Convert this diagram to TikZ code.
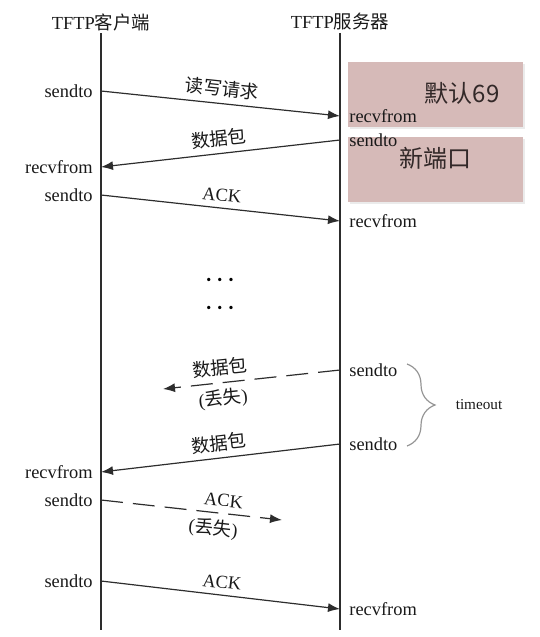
\documentclass[tikz,border=0pt]{standalone}
\usepackage{fontspec}
\setmainfont{Liberation Serif}
\newfontfamily\cjk{Noto Sans CJK SC}
\usetikzlibrary{arrows.meta,decorations.pathreplacing}
\definecolor{linea}{RGB}{45,45,45}
\definecolor{caja}{RGB}{214,186,184}
\definecolor{llave}{RGB}{150,150,150}
\definecolor{tcaja}{RGB}{50,40,40}

\begin{document}
\begin{tikzpicture}[x=0.5pt, y=-0.5pt,
	vida/.style={draw=linea, line width=0.9pt},
	msg/.style={draw=linea, line width=0.6pt, -{Latex[length=6pt,width=4.5pt]}},
	perdido/.style={msg, dash pattern=on 11pt off 5pt},
	etq/.style={font=\fontsize{9.2}{10}\selectfont, inner sep=1pt, text=black!90},
	grande/.style={font=\fontsize{12}{13}\selectfont\cjk, text=tcaja},
	puntos/.style={font=\fontsize{11}{12}\selectfont\boldmath, inner sep=1pt}]
	\useasboundingbox (0,0) rectangle (540,637);
	
	% Puertos del servidor
		% Cajas
			\fill[black, opacity=0.08] (350,64) rectangle (525,129);
			\fill[black, opacity=0.08] (350,139) rectangle (525,204);
			\fill[caja] (348,62) rectangle (523,127);
			\fill[caja] (348,137) rectangle (523,202);
		% Textos
			\node[grande] (puerto) at (462,93) {默认69};
			\node[grande] (nuevo) at (435,158) {新端口};
	
	% Lineas de vida
		\node[etq] (cliente) at (101,22) {TFTP{\cjk 客户端}};
		\node[etq] (servidor) at (340,22) {TFTP{\cjk 服务器}};
		\coordinate (finc) at (101,630);
		\coordinate (fins) at (340,630);
		\draw[vida] (cliente.south) -- (finc);
		\draw[vida] (servidor.south) -- (fins);
	
	% Puntos de envio y recepcion
		% Cliente
			\coordinate (c1) at (101,91);
			\coordinate (c2) at (101,167);
			\coordinate (c3) at (101,195);
			\coordinate (c4) at (101,472);
			\coordinate (c5) at (101,500);
			\coordinate (c6) at (101,581);
			\node[etq, left=3pt] (tc1) at (c1) {sendto};
			\node[etq, left=3pt] (tc2) at (c2) {recvfrom};
			\node[etq, left=3pt] (tc3) at (c3) {sendto};
			\node[etq, left=3pt] (tc4) at (c4) {recvfrom};
			\node[etq, left=3pt] (tc5) at (c5) {sendto};
			\node[etq, left=3pt] (tc6) at (c6) {sendto};
		% Servidor
			\coordinate (s1) at (340,116);
			\coordinate (s2) at (340,140);
			\coordinate (s3) at (340,221);
			\coordinate (s4) at (340,370);
			\coordinate (s5) at (340,444);
			\coordinate (s6) at (340,609);
			\node[etq, right=3.5pt] (ts1) at (s1) {recvfrom};
			\node[etq, right=3.5pt] (ts2) at (s2) {sendto};
			\node[etq, right=3.5pt] (ts3) at (s3) {recvfrom};
			\node[etq, right=3.5pt] (ts4) at (s4) {sendto};
			\node[etq, right=3.5pt] (ts5) at (s5) {sendto};
			\node[etq, right=3.5pt] (ts6) at (s6) {recvfrom};
		% Destinos perdidos
			\coordinate (p1) at (163,389);
			\coordinate (p2) at (282,520);
	
	% Mensajes
		\draw[msg] (c1) -- (s1) node[etq, midway, above=2pt, sloped] {\cjk 读写请求};
		\draw[msg] (s2) -- (c2) node[etq, midway, above=2pt, sloped] {\cjk 数据包};
		\draw[msg] (c3) -- (s3) node[etq, midway, above=2pt, sloped] {ACK};
		
		\node[puntos] (puntos1) at (220,280) {$\cdots$};
		\node[puntos] (puntos2) at (220,308) {$\cdots$};
		
		\draw[perdido] (s4) -- (p1) node[etq, pos=0.67, above=2pt, sloped] {\cjk 数据包}
			node[etq, pos=0.67, below=2pt, sloped] {({\cjk 丢失})};
		\draw[msg] (s5) -- (c4) node[etq, midway, above=2pt, sloped] {\cjk 数据包};
		\draw[perdido] (c5) -- (p2) node[etq, pos=0.67, above=2pt, sloped] {ACK}
			node[etq, pos=0.63, below=2pt, sloped] {({\cjk 丢失})};
		\draw[msg] (c6) -- (s6) node[etq, midway, above=2pt, sloped] {ACK};
	
	% Timeout
		\draw[llave, line width=0.6pt, decorate, decoration={brace, amplitude=14pt}] (407,364) -- (407,446);
		\node[etq, font=\fontsize{7.6}{9}\selectfont] (espera) at (479,405) {timeout};
\end{tikzpicture}
\end{document}
